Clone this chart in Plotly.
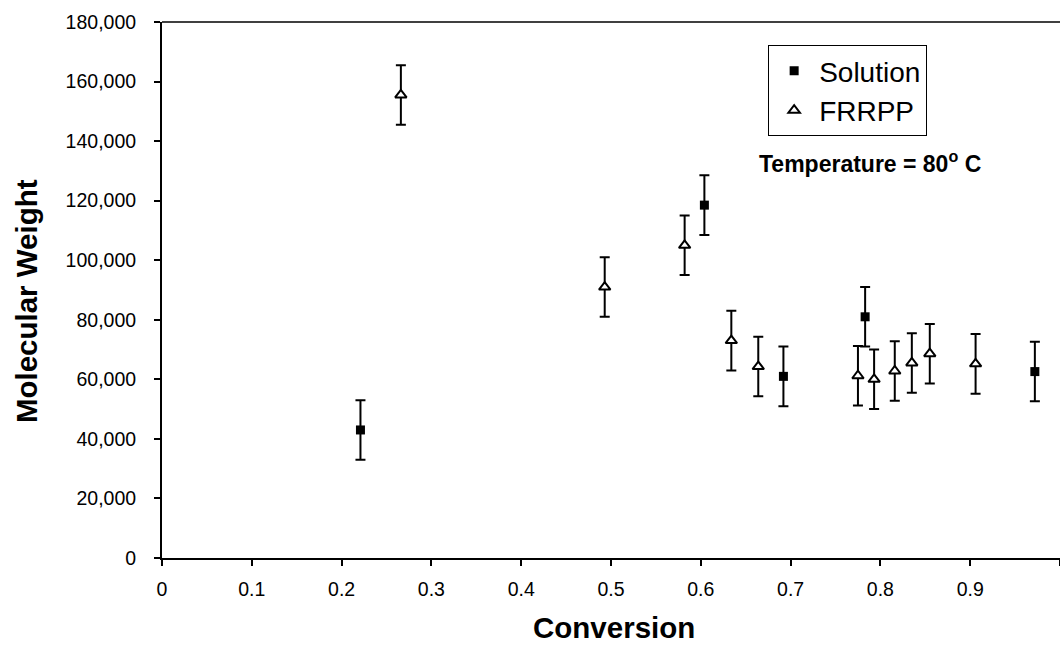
import plotly.graph_objects as go

# Solution series
sol_x = [0.221, 0.604, 0.692, 0.783, 0.972]
sol_y = [43000, 118500, 61000, 81000, 62600]
sol_err = [10000, 10000, 10000, 10000, 10000]

# FRRPP series
fr_x = [0.266, 0.493, 0.582, 0.634, 0.664, 0.775, 0.793, 0.816, 0.835, 0.855, 0.906]
fr_y = [155500, 91000, 105000, 73000, 64300, 61200, 60000, 62800, 65500, 68600, 65200]
fr_err = [10000] * len(fr_x)

x_ticks = [0, 0.1, 0.2, 0.3, 0.4, 0.5, 0.6, 0.7, 0.8, 0.9, 1]
x_tick_text = ["0", "0.1", "0.2", "0.3", "0.4", "0.5", "0.6", "0.7", "0.8", "0.9", "1"]
y_ticks = list(range(0, 180001, 20000))

FONT = "Liberation Sans, Arial, Helvetica, sans-serif"

fig = go.Figure()
fig.add_trace(go.Scatter(
    x=sol_x, y=sol_y, mode="markers", name="Solution",
    marker=dict(symbol="square", size=9, color="black", line=dict(color="black", width=0)),
    error_y=dict(type="data", array=sol_err, visible=True, color="black", thickness=2, width=5),
))
fig.add_trace(go.Scatter(
    x=fr_x, y=fr_y, mode="markers", name="FRRPP",
    marker=dict(symbol="triangle-up", size=10, color="white", line=dict(color="black", width=2)),
    error_y=dict(type="data", array=fr_err, visible=True, color="black", thickness=2, width=5),
))

fig.update_layout(
    width=1060, height=645,
    margin=dict(l=162, r=0, t=22, b=87, autoexpand=False),
    paper_bgcolor="white", plot_bgcolor="white",
    font=dict(family=FONT, color="black", size=19),
    showlegend=True,
    legend=dict(
        x=0.675, y=0.957, xanchor="left", yanchor="top",
        bordercolor="black", borderwidth=1, bgcolor="white",
        font=dict(size=28, family=FONT, color="black"),
        itemsizing="trace", tracegroupgap=0, itemwidth=40,
    ),
    annotations=[
        dict(text="<b>Temperature = 80<sup>o</sup> C</b>", xref="paper", yref="paper",
             x=0.6626, y=0.739, xanchor="left", yanchor="middle", showarrow=False,
             font=dict(size=23, family=FONT, color="black")),
        dict(text="<b>Molecular Weight</b>", xref="paper", yref="paper",
             x=-0.151, y=0.48, xanchor="center", yanchor="middle", textangle=-90,
             showarrow=False, font=dict(size=29.5, family=FONT, color="black")),
        dict(text="<b>Conversion</b>", xref="paper", yref="paper",
             x=0.503, y=-0.129, xanchor="center", yanchor="middle",
             showarrow=False, font=dict(size=29.5, family=FONT, color="black")),
    ],
)

fig.update_xaxes(
    range=[0, 1], tickvals=x_ticks, ticktext=x_tick_text,
    showgrid=False, zeroline=False,
    showline=True, linecolor="black", linewidth=2, mirror=False,
    ticks="outside", ticklen=6, tickwidth=1.5, tickcolor="black",
    tickfont=dict(size=19.5, family=FONT, color="black"),
    ticklabelstandoff=7,
)
fig.update_yaxes(
    range=[0, 180000], tickvals=y_ticks, tickformat=",d",
    showgrid=False, zeroline=False,
    showline=True, linecolor="black", linewidth=2, mirror=False,
    ticks="outside", ticklen=6, tickwidth=1.5, tickcolor="black",
    tickfont=dict(size=19.5, family=FONT, color="black"),
    ticklabelstandoff=14,
)
# top border line
fig.add_shape(type="line", xref="paper", yref="paper", x0=0, x1=1, y0=1, y1=1,
              line=dict(color="black", width=1.5))

fig.write_html("out.html")
